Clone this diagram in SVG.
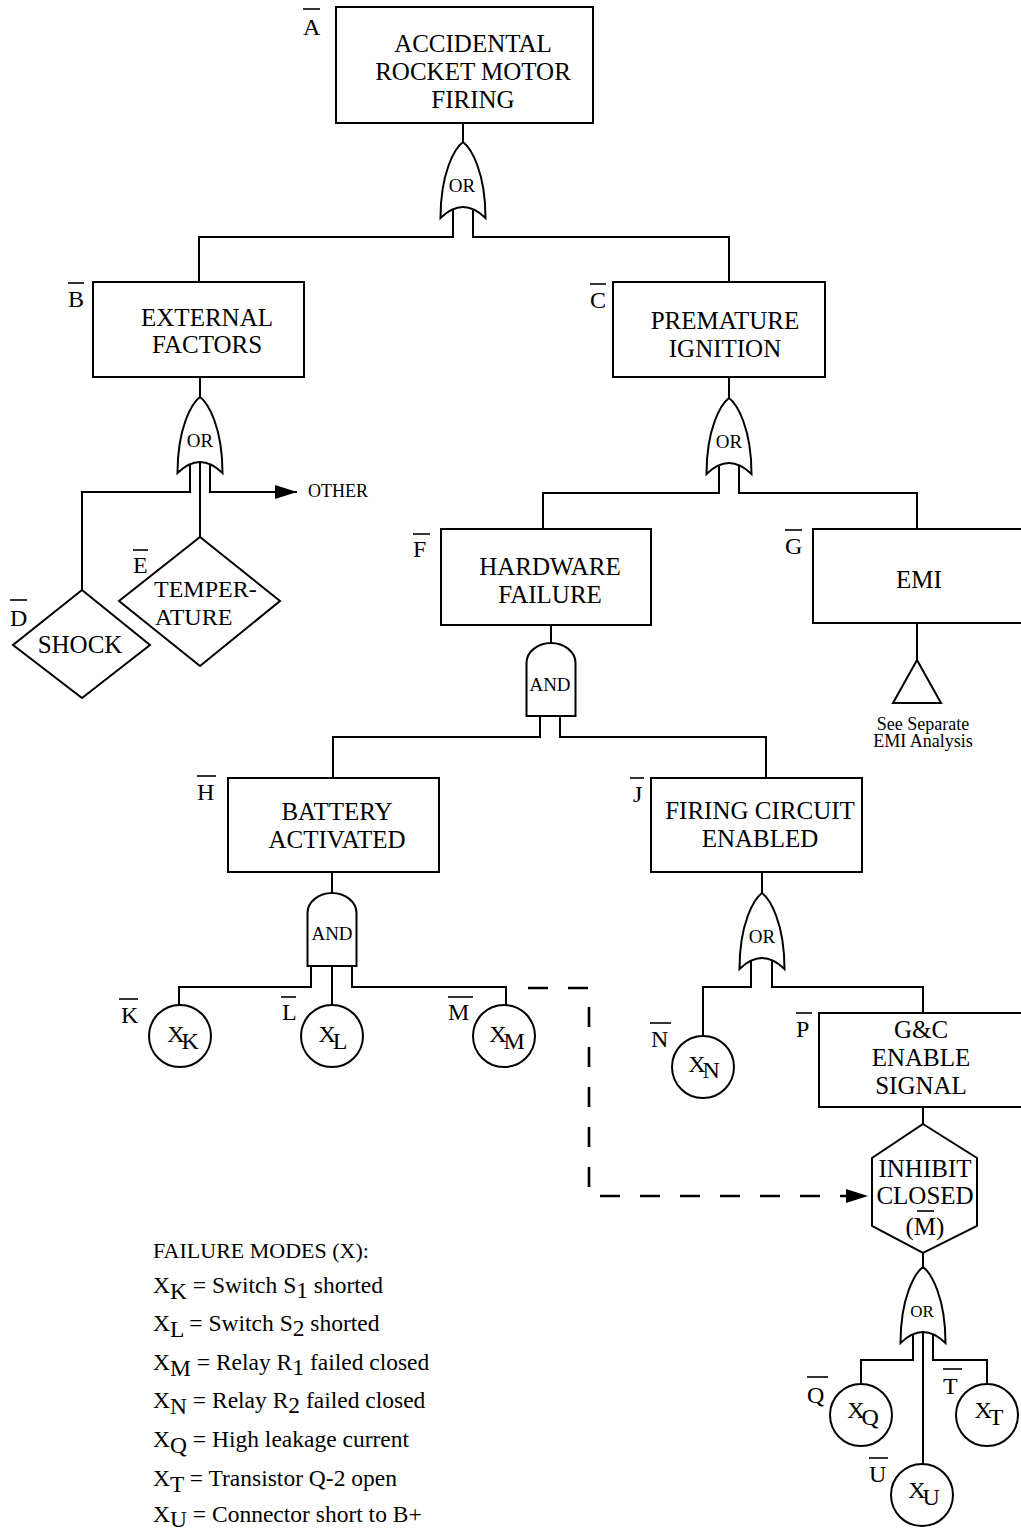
<svg xmlns="http://www.w3.org/2000/svg" xmlns:xlink="http://www.w3.org/1999/xlink" width="1021" height="1530" viewBox="0 0 1021 1530">
<style>
  text { font-family: "Liberation Serif", "Times New Roman", serif; fill: #000; }
  .box { fill: #fff; stroke: #000; stroke-width: 2; }
  .shape { fill: #fff; stroke: #000; stroke-width: 2; }
  .t { font-size: 25px; text-anchor: middle; }
  .lbl { font-size: 24px; }
  .bar { stroke: #000; stroke-width: 1.6; }
  .gl { font-size: 19px; text-anchor: middle; }
  .ct { font-size: 24px; text-anchor: middle; }
  .leg { font-size: 23.5px; }
  .legh { font-size: 22px; }
  .small { font-size: 18px; text-anchor: middle; }
  .wire { fill: none; stroke: #000; stroke-width: 2; }
  .dash { fill: none; stroke: #000; stroke-width: 2.6; stroke-dasharray: 20 20; }
</style>
<defs>
  <path id="orgate" d="M 0,0 C 8,6 22.5,30 22.5,76 Q 0,54 -22.5,76 C -22.5,30 -8,6 0,0 Z"/>
  <path id="andgate" d="M -24.5,73 V 20 A 24.5 20 0 0 1 24.5 20 V 73 Z"/>
  <marker id="arrow" markerUnits="userSpaceOnUse" markerWidth="22" markerHeight="14" refX="22" refY="7" orient="auto">
    <path d="M 0,0 L 22,7 L 0,14 Z" fill="#000"/>
  </marker>
</defs>

<g id="connectors">
  <path class="wire" d="M 463,123 V 142"/>
  <path class="wire" d="M 453,209 V 237 H 199 V 282"/>
  <path class="wire" d="M 473,209 V 237 H 729 V 282"/>
  <path class="wire" d="M 200,377 V 397"/>
  <path class="wire" d="M 190,464 V 492 H 82 V 590"/>
  <path class="wire" d="M 200,462 V 537"/>
  <path class="wire" d="M 210,464 V 492 H 297" marker-end="url(#arrow)"/>
  <path class="wire" d="M 729,377 V 398"/>
  <path class="wire" d="M 719,465 V 493 H 543 V 529"/>
  <path class="wire" d="M 739,465 V 493 H 917 V 529"/>
  <path class="wire" d="M 551,625 V 643"/>
  <path class="wire" d="M 540,716 V 737 H 333 V 778"/>
  <path class="wire" d="M 560,716 V 737 H 766 V 778"/>
  <path class="wire" d="M 917,623 V 660"/>
  <path class="wire" d="M 332,872 V 893"/>
  <path class="wire" d="M 311,966 V 987 H 179 V 1005"/>
  <path class="wire" d="M 332,966 V 1005"/>
  <path class="wire" d="M 352,966 V 987 H 506 V 1005"/>
  <path class="wire" d="M 762,872 V 893"/>
  <path class="wire" d="M 751,960 V 987 H 703 V 1036"/>
  <path class="wire" d="M 772,960 V 987 H 923 V 1013"/>
  <path class="wire" d="M 923,1107 V 1124"/>
  <path class="wire" d="M 923,1253 V 1267"/>
  <path class="wire" d="M 913,1334 V 1360 H 861 V 1384"/>
  <path class="wire" d="M 923,1332 V 1464"/>
  <path class="wire" d="M 933,1334 V 1360 H 987 V 1384"/>
  <path class="dash" d="M 528,988 H 589 V 1196 H 868" marker-end="url(#arrow)"/>
</g>

<g id="node-A">
  <rect class="box" x="336" y="7" width="257" height="116"/>
  <text class="t" x="473" y="52">ACCIDENTAL</text>
  <text class="t" x="473" y="80">ROCKET MOTOR</text>
  <text class="t" x="473" y="108">FIRING</text>
  <text class="lbl" x="303" y="35">A</text>
  <line class="bar" x1="303" y1="9" x2="320" y2="9"/>
</g>
<g id="gate-A-or">
  <use href="#orgate" x="463" y="142" class="shape"/>
  <text class="gl" x="462" y="192">OR</text>
</g>

<g id="node-B">
  <rect class="box" x="93" y="282" width="211" height="95"/>
  <text class="t" x="207" y="326">EXTERNAL</text>
  <text class="t" x="207" y="353">FACTORS</text>
  <text class="lbl" x="68" y="307">B</text>
  <line class="bar" x1="68" y1="283" x2="84" y2="283"/>
</g>
<g id="gate-B-or">
  <use href="#orgate" x="200" y="397" class="shape"/>
  <text class="gl" x="200" y="447">OR</text>
</g>
<g id="node-other">
  <text class="small" x="308" y="497" style="text-anchor:start">OTHER</text>
</g>

<g id="node-D">
  <polygon class="shape" points="82,590 150,645 82,698 13,645"/>
  <text class="t" x="80" y="653">SHOCK</text>
  <text class="lbl" x="10" y="626">D</text>
  <line class="bar" x1="10" y1="600" x2="27" y2="600"/>
</g>
<g id="node-E">
  <polygon class="shape" points="200,537 280,601 200,666 119,601"/>
  <text class="lbl" x="154" y="597">TEMPER-</text>
  <text class="lbl" x="155" y="625">ATURE</text>
  <text class="lbl" x="133" y="573">E</text>
  <line class="bar" x1="133" y1="550" x2="148" y2="550"/>
</g>

<g id="node-C">
  <rect class="box" x="613" y="282" width="212" height="95"/>
  <text class="t" x="725" y="329">PREMATURE</text>
  <text class="t" x="725" y="357">IGNITION</text>
  <text class="lbl" x="590" y="308">C</text>
  <line class="bar" x1="590" y1="284" x2="606" y2="284"/>
</g>
<g id="gate-C-or">
  <use href="#orgate" x="729" y="398" class="shape"/>
  <text class="gl" x="729" y="448">OR</text>
</g>

<g id="node-F">
  <rect class="box" x="441" y="529" width="210" height="96"/>
  <text class="t" x="550" y="575">HARDWARE</text>
  <text class="t" x="550" y="603">FAILURE</text>
  <text class="lbl" x="413" y="557">F</text>
  <line class="bar" x1="413" y1="534" x2="430" y2="534"/>
</g>
<g id="gate-F-and">
  <use href="#andgate" x="551" y="643" class="shape"/>
  <text class="gl" x="550" y="691">AND</text>
</g>

<g id="node-G">
  <rect class="box" x="813" y="529" width="220" height="94"/>
  <text class="t" x="919" y="588">EMI</text>
  <text class="lbl" x="785" y="554">G</text>
  <line class="bar" x1="785" y1="530" x2="802" y2="530"/>
</g>
<g id="node-G-transfer">
  <polygon class="shape" points="917,660 941,703 893,703"/>
  <text class="small" x="923" y="730">See Separate</text>
  <text class="small" x="923" y="747">EMI Analysis</text>
</g>

<g id="node-H">
  <rect class="box" x="228" y="778" width="211" height="94"/>
  <text class="t" x="337" y="820">BATTERY</text>
  <text class="t" x="337" y="848">ACTIVATED</text>
  <text class="lbl" x="197" y="800">H</text>
  <line class="bar" x1="197" y1="776" x2="216" y2="776"/>
</g>
<g id="gate-H-and">
  <use href="#andgate" x="332" y="893" class="shape"/>
  <text class="gl" x="332" y="940">AND</text>
</g>

<g id="node-K">
  <circle class="shape" cx="180" cy="1036" r="31"/>
  <text class="ct" x="183" y="1042">X<tspan dx="-3" dy="7">K</tspan></text>
  <text class="lbl" x="121" y="1023">K</text>
  <line class="bar" x1="119" y1="999" x2="138" y2="999"/>
</g>
<g id="node-L">
  <circle class="shape" cx="332" cy="1036" r="31"/>
  <text class="ct" x="333" y="1042">X<tspan dx="-3" dy="7">L</tspan></text>
  <text class="lbl" x="282" y="1020">L</text>
  <line class="bar" x1="281" y1="997" x2="296" y2="997"/>
</g>
<g id="node-M">
  <circle class="shape" cx="504" cy="1036" r="31"/>
  <text class="ct" x="507" y="1042">X<tspan dx="-3" dy="7">M</tspan></text>
  <text class="lbl" x="448" y="1020">M</text>
  <line class="bar" x1="448" y1="997" x2="473" y2="997"/>
</g>

<g id="node-J">
  <rect class="box" x="651" y="778" width="211" height="94"/>
  <text class="t" x="760" y="819">FIRING CIRCUIT</text>
  <text class="t" x="760" y="847">ENABLED</text>
  <text class="lbl" x="633" y="802">J</text>
  <line class="bar" x1="630" y1="778" x2="644" y2="778"/>
</g>
<g id="gate-J-or">
  <use href="#orgate" x="762" y="893" class="shape"/>
  <text class="gl" x="762" y="943">OR</text>
</g>

<g id="node-N">
  <circle class="shape" cx="703" cy="1067" r="31"/>
  <text class="ct" x="704" y="1072">X<tspan dx="-3" dy="6">N</tspan></text>
  <text class="lbl" x="651" y="1047">N</text>
  <line class="bar" x1="650" y1="1023" x2="671" y2="1023"/>
</g>

<g id="node-P">
  <rect class="box" x="819" y="1013" width="215" height="94"/>
  <text class="t" x="921" y="1038">G&amp;C</text>
  <text class="t" x="921" y="1066">ENABLE</text>
  <text class="t" x="921" y="1094">SIGNAL</text>
  <text class="lbl" x="796" y="1037">P</text>
  <line class="bar" x1="796" y1="1013" x2="812" y2="1013"/>
</g>

<g id="node-inhibit">
  <polygon class="shape" points="923,1124 977,1158 977,1226 923,1253 872,1226 872,1158"/>
  <text class="t" x="925" y="1177">INHIBIT</text>
  <text class="t" x="925" y="1204">CLOSED</text>
  <text class="t" x="925" y="1235">(M)</text>
  <line class="bar" x1="917" y1="1211" x2="934" y2="1211"/>
</g>
<g id="gate-inhibit-or">
  <use href="#orgate" x="923" y="1267" class="shape"/>
  <text class="gl" x="922" y="1317" style="font-size:17px">OR</text>
</g>

<g id="node-Q">
  <circle class="shape" cx="861" cy="1415" r="31"/>
  <text class="ct" x="863" y="1418">X<tspan dx="-3" dy="7">Q</tspan></text>
  <text class="lbl" x="807" y="1403">Q</text>
  <line class="bar" x1="807" y1="1377" x2="828" y2="1377"/>
</g>
<g id="node-T">
  <circle class="shape" cx="987" cy="1415" r="31"/>
  <text class="ct" x="989" y="1418">X<tspan dx="-3" dy="7">T</tspan></text>
  <text class="lbl" x="943" y="1394">T</text>
  <line class="bar" x1="943" y1="1369" x2="962" y2="1369"/>
</g>
<g id="node-U">
  <circle class="shape" cx="922" cy="1495" r="31"/>
  <text class="ct" x="924" y="1498">X<tspan dx="-3" dy="7">U</tspan></text>
  <text class="lbl" x="869" y="1482">U</text>
  <line class="bar" x1="869" y1="1458" x2="888" y2="1458"/>
</g>

<g id="legend">
  <text class="legh" x="153" y="1258">FAILURE MODES (X):</text>
  <text class="leg" x="153" y="1293">X<tspan dy="6">K</tspan><tspan dy="-6"> = Switch S</tspan><tspan dy="5">1</tspan><tspan dy="-5"> shorted</tspan></text>
  <text class="leg" x="153" y="1331">X<tspan dy="6">L</tspan><tspan dy="-6"> = Switch S</tspan><tspan dy="5">2</tspan><tspan dy="-5"> shorted</tspan></text>
  <text class="leg" x="153" y="1370">X<tspan dy="6">M</tspan><tspan dy="-6"> = Relay R</tspan><tspan dy="5">1</tspan><tspan dy="-5"> failed closed</tspan></text>
  <text class="leg" x="153" y="1408">X<tspan dy="6">N</tspan><tspan dy="-6"> = Relay R</tspan><tspan dy="5">2</tspan><tspan dy="-5"> failed closed</tspan></text>
  <text class="leg" x="153" y="1447">X<tspan dy="6">Q</tspan><tspan dy="-6"> = High leakage current</tspan></text>
  <text class="leg" x="153" y="1486">X<tspan dy="6">T</tspan><tspan dy="-6"> = Transistor Q-2 open</tspan></text>
  <text class="leg" x="153" y="1522">X<tspan dy="5">U</tspan><tspan dy="-5"> = Connector short to B+</tspan></text>
</g>
</svg>
